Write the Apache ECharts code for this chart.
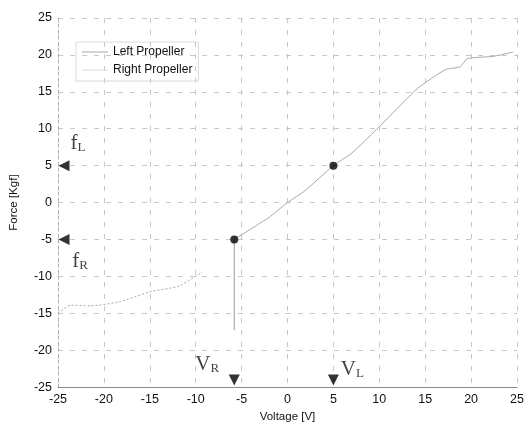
<!DOCTYPE html>
<html>
<head>
<meta charset="utf-8">
<script src="https://cdn.jsdelivr.net/npm/echarts@6/dist/echarts.min.js"></script>
<style>
  html, body { margin: 0; padding: 0; background: #fff; }
  #chart { width: 527px; height: 428px; }
</style>
</head>
<body>
<div id="chart"></div>
<script>
// Axis ticks
const voltageTicks = [-25, -20, -15, -10, -5, 0, 5, 10, 15, 20, 25];
const forceTicks = [-25, -20, -15, -10, -5, 0, 5, 10, 15, 20, 25];

// Left propeller thrust curve: voltage [V] and force [Kgf]
const leftVoltage = [-5.8, -3.5, -2, 0, 1.9, 5, 7, 9.7, 12, 14.2, 17.2, 18.8, 19.6, 22.4, 24.6];
const leftForce   = [-5, -3.2, -2, 0, 1.6, 5, 6.7, 9.9, 12.8, 15.5, 18, 18.4, 19.5, 19.8, 20.4];

// Right propeller thrust curve
const rightVoltage = [-25, -23.6, -21.4, -18.2, -15, -11.8, -9.3];
const rightForce   = [-15, -13.9, -14, -13.4, -12.1, -11.3, -9.4];

// Operating points (voltage, force)
const opVoltage = [-5.8, 5];
const opForce   = [-5, 5];

// Drop line below the right operating point
const dropVoltage = [-5.8, -5.8];
const dropForce   = [-5, -17.3];

// Marked values on the axes
const fL = 5, fR = -5, VR = -5.8, VL = 5;

const serifRich = {
  m: { fontFamily: 'Liberation Serif', fontSize: 21, color: '#111' },
  s: { fontFamily: 'Liberation Serif', fontSize: 13, color: '#111', verticalAlign: 'bottom', padding: [8, 0, 0, 0] }
};

function arrowPoint(x, y, rot, offset, sub, labOffset) {
  return {
    value: [x, y],
    symbol: 'triangle',
    symbolSize: [11, 11],
    symbolRotate: rot,
    symbolOffset: offset,
    label: {
      show: true,
      position: 'inside',
      offset: labOffset,
      formatter: '{m|' + sub[0] + '}{s|' + sub[1] + '}',
      rich: serifRich
    }
  };
}

const chart = echarts.init(document.getElementById('chart'), null, { renderer: 'canvas' });

const axisLabelStyle = { color: '#111', fontFamily: 'Liberation Sans', fontSize: 12.5 };
const gridLine = { show: true, lineStyle: { color: '#c8c8c8', type: [5, 7], width: 1 } };

chart.setOption({
  animation: false,
  backgroundColor: '#fff',
  grid: { left: 54, right: 10, top: 18, bottom: 38, containLabel: false },
  legend: {
    data: [
      { name: 'Left Propeller', icon: 'rect' },
      { name: 'Right Propeller', icon: 'rect', itemStyle: { color: '#dcdcdc' } }
    ],
    orient: 'vertical',
    left: 76,
    top: 42,
    itemWidth: 26,
    itemHeight: 1,
    itemGap: 6,
    padding: [4, 6, 5, 6],
    borderColor: '#dadada',
    borderWidth: 1,
    textStyle: { color: '#111', fontFamily: 'Liberation Sans', fontSize: 12 }
  },
  xAxis: {
    type: 'value',
    min: voltageTicks[0],
    max: voltageTicks[voltageTicks.length - 1],
    interval: 5,
    name: 'Voltage [V]',
    nameLocation: 'middle',
    nameGap: 22,
    nameTextStyle: { color: '#111', fontFamily: 'Liberation Sans', fontSize: 11.5 },
    axisLine: { show: true, onZero: false, lineStyle: { color: '#8a8a8a', width: 1 } },
    axisTick: { show: false },
    axisLabel: Object.assign({ margin: 6 }, axisLabelStyle),
    splitLine: gridLine
  },
  yAxis: {
    type: 'value',
    min: forceTicks[0],
    max: forceTicks[forceTicks.length - 1],
    interval: 5,
    name: 'Force [Kgf]',
    nameLocation: 'middle',
    nameGap: 38,
    nameTextStyle: { color: '#111', fontFamily: 'Liberation Sans', fontSize: 11.5 },
    axisLine: { show: true, onZero: false, lineStyle: { color: '#b0b0b0', width: 1, type: [3, 3] } },
    axisTick: { show: false },
    axisLabel: Object.assign({ margin: 6 }, axisLabelStyle),
    splitLine: gridLine
  },
  series: [
    {
      name: 'Left Propeller',
      type: 'line',
      symbol: 'none',
      smooth: 0.2,
      data: leftVoltage.map((v, i) => [v, leftForce[i]]),
      lineStyle: { color: '#a8a8a8', width: 1, type: 'solid' },
      itemStyle: { color: '#a8a8a8' },
      z: 3
    },
    {
      name: 'Right Propeller',
      type: 'line',
      symbol: 'none',
      smooth: 0.2,
      data: rightVoltage.map((v, i) => [v, rightForce[i]]),
      lineStyle: { color: '#a8a8a8', width: 1, type: [2, 2] },
      itemStyle: { color: '#a8a8a8' },
      z: 3
    },
    {
      name: 'drop',
      type: 'line',
      symbol: 'none',
      data: dropVoltage.map((v, i) => [v, dropForce[i]]),
      lineStyle: { color: '#9a9a9a', width: 1 },
      z: 3
    },
    {
      name: 'operating',
      type: 'scatter',
      symbol: 'circle',
      symbolSize: 8,
      itemStyle: { color: '#000' },
      data: opVoltage.map((v, i) => [v, opForce[i]]),
      z: 5
    },
    {
      name: 'markers',
      type: 'scatter',
      itemStyle: { color: '#000' },
      clip: false,
      z: 6,
      data: [
        arrowPoint(-25, fL, 90, [6, 0], ['f', 'L'], [14, -22]),
        arrowPoint(-25, fR, 90, [6, 0], ['f', 'R'], [16, 22]),
        arrowPoint(VR, -25, 180, [0, -7], ['V', 'R'], [-27, -16]),
        arrowPoint(VL, -25, 180, [0, -7], ['V', 'L'], [19, -11])
      ]
    }
  ]
});
</script>
</body>
</html>
